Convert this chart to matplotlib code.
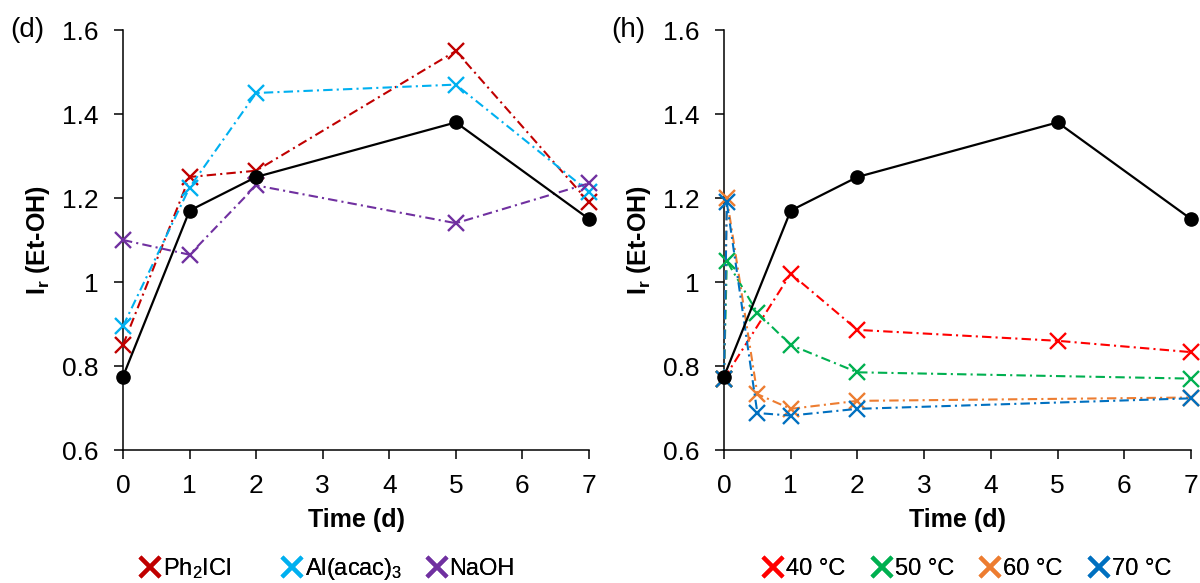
#!/usr/bin/python3

import numpy as np
import matplotlib
matplotlib.use("Agg")
import matplotlib.pyplot as plt
from matplotlib.lines import Line2D
from matplotlib.ticker import FuncFormatter

#===============================================================================
# DATA
#===============================================================================
# control series (same in both panels)
control_days = [0, 1, 2, 5, 7]
control_ir = [0.775, 1.17, 1.25, 1.38, 1.15]

# panel (d): additives
additive_days = [0, 1, 2, 5, 7]
additive_names = ["Ph$_2$ICl", "Al(acac)$_3$", "NaOH"]
ph2icl_ir = [0.85, 1.25, 1.265, 1.55, 1.19]
alacac_ir = [0.895, 1.225, 1.45, 1.47, 1.215]
naoh_ir = [1.10, 1.065, 1.23, 1.14, 1.235]
additive_colors = ["#C00000", "#00B0F0", "#7030A0"]

# panel (h): temperatures
temp_names = ["40 °C", "50 °C", "60 °C", "70 °C"]
t40_days = [0, 1, 2, 5, 7]
t40_ir = [0.77, 1.02, 0.886, 0.86, 0.833]
t50_days = [0, 0.042, 0.5, 1, 2, 7]
t50_ir = [0.77, 1.05, 0.927, 0.85, 0.785, 0.77]
t60_days = [0, 0.042, 0.5, 1, 2, 7]
t60_ir = [0.77, 1.20, 0.733, 0.698, 0.717, 0.725]
t70_days = [0, 0.042, 0.5, 1, 2, 7]
t70_ir = [0.77, 1.19, 0.688, 0.682, 0.698, 0.723]
temp_colors = ["#FF0000", "#00B050", "#ED7D31", "#0070C0"]

plt.rcParams['font.family'] = ['Liberation Sans', 'DejaVu Sans']
plt.rcParams['mathtext.fontset'] = 'custom'
plt.rcParams['mathtext.rm'] = 'Liberation Sans'
plt.rcParams['mathtext.it'] = 'Liberation Sans:italic'
plt.rcParams['mathtext.bf'] = 'Liberation Sans:bold'

DASHES = (4.5, 2, 1, 2)
W, H = 1200.0, 583.0


#===============================================================================
# AXES STYLE
#===============================================================================
def style_axes(ax):
    ax.set_xlim(0, 7)
    ax.set_ylim(0.6, 1.6)
    ax.set_xticks(range(0, 8))
    ax.set_yticks([0.6, 0.8, 1.0, 1.2, 1.4, 1.6])
    ax.yaxis.set_major_formatter(FuncFormatter(lambda v, p: f"{v:g}"))
    for side in ["top", "right"]:
        ax.spines[side].set_visible(False)
    for side in ["left", "bottom"]:
        ax.spines[side].set_linewidth(1.1)
    ax.tick_params(direction="out", length=6.5, width=1.1, pad=11, labelsize=19)
    ax.set_xlabel("Time (d)", fontsize=18, fontweight="bold", labelpad=7)
    ax.set_ylabel(r"$\mathbf{I_r}$ (Et-OH)", fontsize=18, fontweight="bold", labelpad=7)


def draw_control(ax):
    ax.plot(control_days, control_ir, color="black", lw=1.6, marker="o",
            markersize=9.5, zorder=4, clip_on=False)


def draw_series(ax, days, values, color):
    ax.plot(days, values, color=color, lw=1.5, dashes=DASHES, marker="x",
            markersize=11.5, markeredgewidth=1.7, zorder=3, clip_on=False)


#===============================================================================
# LEGEND: one entry per slot, Excel-style equal spacing
#===============================================================================
def add_legend(fig, names, colors, x_pixels):
    for name, color, xp in zip(names, colors, x_pixels):
        handle = Line2D([], [], color=color, marker="x", linestyle="none",
                        markersize=14, markeredgewidth=3)
        leg = fig.legend([handle], [name], loc="center left",
                         bbox_to_anchor=(xp / W, 1 - 569 / H), frameon=False,
                         fontsize=17, handlelength=0.9, handletextpad=0.1,
                         borderpad=0, borderaxespad=0)
        fig.add_artist(leg)


#===============================================================================
# MAINLINE
#===============================================================================
def main():
    fig = plt.figure(figsize=(12, 5.83), dpi=100)
    ax_d = fig.add_axes([123 / W, 1 - 450 / H, 466 / W, 420 / H])
    ax_h = fig.add_axes([724 / W, 1 - 450 / H, 467 / W, 420 / H])

    # panel (d)
    draw_control(ax_d)
    for values, color in zip([ph2icl_ir, alacac_ir, naoh_ir], additive_colors):
        draw_series(ax_d, additive_days, values, color)
    style_axes(ax_d)

    # panel (h)
    draw_control(ax_h)
    temp_days = [t40_days, t50_days, t60_days, t70_days]
    temp_values = [t40_ir, t50_ir, t60_ir, t70_ir]
    for days, values, color in zip(temp_days, temp_values, temp_colors):
        draw_series(ax_h, days, values, color)
    style_axes(ax_h)

    fig.text(10 / W, 1 - 30 / H, "(d)", fontsize=20, va="center", ha="left")
    fig.text(611 / W, 1 - 30 / H, "(h)", fontsize=20, va="center", ha="left")

    add_legend(fig, additive_names, additive_colors, [139, 281, 426])
    add_legend(fig, temp_names, temp_colors, [762, 871, 979, 1088])

    fig.savefig("out.png", dpi=100)


main()
